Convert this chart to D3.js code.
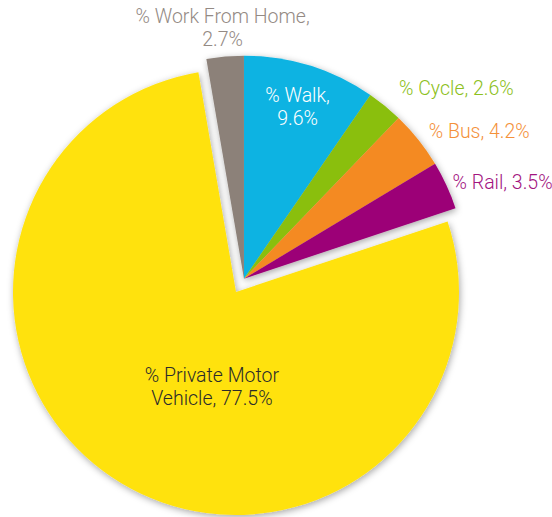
<!DOCTYPE html>
<html>
<head>
<meta charset="utf-8">
<script src="https://cdn.jsdelivr.net/npm/d3@7"></script>
<style>
  body { margin: 0; background: #fff; }
  svg text { font-family: Roboto, "Open Sans", sans-serif; font-weight: 300; font-size: 19.5px; }
</style>
</head>
<body>
<div id="chart"></div>
<script>
// Datos del grafico (modo de transporte al trabajo)
var categories = ["Walk", "Cycle", "Bus", "Rail", "Private Motor Vehicle", "Work From Home"];
var values = [9.6, 2.6, 4.2, 3.5, 77.5, 2.7];
var colors = ["#0db3e2", "#8abf08", "#f48a20", "#9c0077", "#ffe20f", "#8c8179"];
var labelColors = ["#ffffff", "#8cc020", "#f4913a", "#a3157f", "#2b2b2b", "#948a84"];
var exploded = ["Walk", "Cycle", "Bus", "Rail", "Work From Home"];

var width = 552, height = 517;
var radius = 223;
var pmvCenter = [236, 292];
var explodeDist = 15.5;

// Posicion de las etiquetas: radio relativo y tipo de colocacion
var labelLayout = {
  "Walk": { r: 0.81, anchor: "middle", lines: ["% Walk,", "9.6%"] },
  "Cycle": { r: 1.1, anchor: "start" },
  "Bus": { r: 1.06, anchor: "start" },
  "Rail": { r: 1.03, anchor: "start" },
  "Private Motor Vehicle": { r: 0.437, anchor: "middle", angle: Math.PI * 194.3 / 180, lines: ["% Private Motor", "Vehicle, 77.5%"] },
  "Work From Home": { r: 1.13, anchor: "middle", lines: ["% Work From Home,", "2.7%"] }
};

var svg = d3.select("#chart").append("svg")
  .attr("width", width)
  .attr("height", height);

// Sombra suave alrededor de los sectores
var defs = svg.append("defs");
var filter = defs.append("filter").attr("id", "shadow")
  .attr("x", "-20%").attr("y", "-20%").attr("width", "140%").attr("height", "140%");
filter.append("feDropShadow")
  .attr("dx", 1).attr("dy", 2)
  .attr("stdDeviation", 3.5)
  .attr("flood-color", "#000")
  .attr("flood-opacity", 0.35);

var pie = d3.pie().sort(null).value(function (d) { return d.value; });
var arcs = pie(categories.map(function (c, i) {
  return { name: c, value: values[i], color: colors[i], labelColor: labelColors[i] };
}));

var arc = d3.arc().innerRadius(0).outerRadius(radius);

// Direccion comun de separacion para el grupo de sectores separados
var grp = arcs.filter(function (a) { return exploded.indexOf(a.data.name) >= 0; });
var wfh = grp[grp.length - 1];
var gStart = wfh.startAngle - 2 * Math.PI;
var gEnd = grp[grp.length - 2].endAngle;
var gMid = (gStart + gEnd) / 2;
var explodedCenter = [
  pmvCenter[0] + explodeDist * Math.sin(gMid),
  pmvCenter[1] - explodeDist * Math.cos(gMid)
];

function centerOf(a) {
  return exploded.indexOf(a.data.name) >= 0 ? explodedCenter : pmvCenter;
}

// Sectores
var slices = svg.append("g").attr("class", "slices");
var pmvGroup = slices.append("g").attr("filter", "url(#shadow)");
var expGroup = slices.append("g").attr("filter", "url(#shadow)");
arcs.forEach(function (a) {
  var c = centerOf(a);
  var target = exploded.indexOf(a.data.name) >= 0 ? expGroup : pmvGroup;
  target.append("path")
    .attr("transform", "translate(" + c[0] + "," + c[1] + ")")
    .attr("d", arc(a))
    .attr("fill", a.data.color);
});

// Etiquetas
var labels = svg.append("g").attr("class", "labels");
arcs.forEach(function (a) {
  var lay = labelLayout[a.data.name];
  var c = centerOf(a);
  var ang = lay.angle !== undefined ? lay.angle : (a.startAngle + a.endAngle) / 2;
  var x = c[0] + radius * lay.r * Math.sin(ang);
  var y = c[1] - radius * lay.r * Math.cos(ang);
  var lines = lay.lines || ["% " + a.data.name + ", " + a.data.value + "%"];
  var t = labels.append("text")
    .attr("x", x)
    .attr("y", y)
    .attr("text-anchor", lay.anchor)
    .attr("fill", a.data.labelColor);
  var lh = 23;
  lines.forEach(function (l, i) {
    t.append("tspan")
      .attr("x", x)
      .attr("y", y + (i - (lines.length - 1) / 2) * lh)
      .attr("dy", "0.35em")
      .text(l);
  });
});
</script>
</body>
</html>
